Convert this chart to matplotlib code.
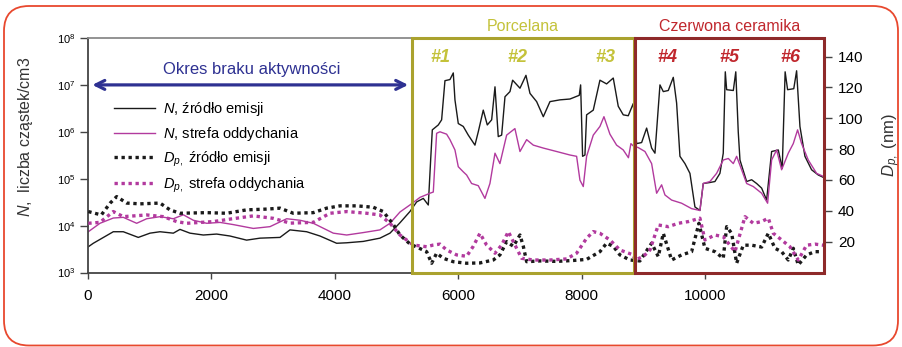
import numpy as np
import matplotlib
matplotlib.use('Agg')
import matplotlib.pyplot as plt
from matplotlib.patches import Rectangle, FancyBboxPatch
from matplotlib.lines import Line2D
from matplotlib.ticker import LogLocator, NullLocator

plt.rcParams['font.family'] = ['Liberation Sans', 'DejaVu Sans']
plt.rcParams['mathtext.fontset'] = 'custom'
plt.rcParams['mathtext.rm'] = 'Liberation Sans'
plt.rcParams['mathtext.it'] = 'Liberation Sans:italic'

# czas (s) i stezenie N - zrodlo emisji
t_n_src = [0, 86, 410, 572, 815, 1005, 1167, 1383, 1491, 1653, 1869, 2085, 2301, 2571, 2788,
           3112, 3274, 3544, 3760, 4030, 4193, 4462, 4732, 4895, 5057, 5219, 5327, 5435, 5516,
           5554, 5581, 5678, 5732, 5786, 5867, 5921, 5948, 6002, 6083, 6164, 6272, 6326, 6407,
           6472, 6543, 6597, 6650, 6705, 6759, 6840, 6883, 7002, 7099, 7164, 7272, 7380, 7488,
           7650, 7812, 7963, 7985, 8017, 8055, 8082, 8190, 8298, 8406, 8514, 8595, 8676, 8757,
           8838, 8893, 8974, 9055, 9136, 9190, 9271, 9325, 9406, 9487, 9541, 9595, 9676, 9757,
           9838, 9919, 9973, 10081, 10162, 10243, 10297, 10330, 10352, 10460, 10500, 10540,
           10568, 10676, 10757, 10838, 10919, 11000, 11081, 11189, 11253, 11300, 11340, 11440,
           11486, 11540, 11621, 11729, 11837, 11918]
n_src = [3.5e3, 4.2e3, 7.4e3, 7.4e3, 5.6e3, 6.9e3, 7.4e3, 6.9e3, 8.3e3, 6.9e3, 6.3e3, 6.6e3,
         6.0e3, 4.9e3, 5.4e3, 5.6e3, 8.1e3, 7.4e3, 6.0e3, 4.2e3, 4.3e3, 4.6e3, 5.4e3, 6.9e3,
         1.15e4, 2.0e4, 3.2e4, 3.8e4, 2.75e4, 2.5e5, 1.1e6, 1.4e6, 1.8e6, 1.23e7, 1.3e7, 1.8e7,
         4.8e6, 1.5e6, 1.3e6, 8.5e5, 5.2e5, 1.0e6, 2.9e6, 1.4e6, 1.8e6, 9.1e6, 7.9e5, 8.5e5,
         5.6e6, 7.2e6, 1.26e7, 8.5e6, 1.6e7, 6.6e6, 4.4e6, 2.1e6, 4.4e6, 4.8e6, 5.0e6, 6.0e6,
         1.0e7, 3.0e5, 3.2e5, 2.3e6, 2.9e6, 1.26e7, 1.05e7, 1.4e7, 3.5e6, 2.3e6, 2.2e6, 4.0e6,
         5.6e5, 5.9e5, 1.2e6, 4.5e5, 3.5e5, 1.0e7, 7.2e6, 7.6e6, 1.45e7, 4.1e6, 3.0e5, 2.1e5,
         1.3e5, 2.5e4, 2.1e4, 7.9e4, 8.3e4, 8.7e4, 1.3e5, 3.5e5, 1.9e7, 7.9e6, 7.6e6, 1.9e7,
         1.0e6, 2.5e5, 8.7e4, 9.5e4, 7.9e4, 6.3e4, 3.5e4, 3.8e5, 4.1e5, 1.66e5, 1.9e7, 7.9e6,
         8.3e6, 2.0e7, 1.3e6, 3.0e5, 1.55e5, 1.2e5, 1.07e5]

# N - strefa oddychania
t_n_br = [5, 194, 410, 572, 789, 951, 1167, 1383, 1545, 1707, 1924, 2140, 2356, 2680, 2950,
          3220, 3436, 3652, 3976, 4193, 4462, 4732, 4895, 5057, 5250, 5381, 5543, 5597, 5651,
          5705, 5813, 5867, 5948, 6002, 6083, 6137, 6218, 6326, 6434, 6515, 6597, 6677, 6786,
          6920, 7002, 7110, 7218, 7380, 7596, 7812, 7920, 7974, 8028, 8082, 8190, 8298, 8363,
          8460, 8568, 8676, 8760, 8800, 8838, 8920, 9028, 9136, 9217, 9298, 9352, 9460, 9622,
          9784, 9919, 9973, 10081, 10189, 10297, 10379, 10460, 10514, 10595, 10676, 10784,
          10919, 11016, 11081, 11162, 11243, 11351, 11432, 11502, 11567, 11675, 11810, 11918]
n_br = [7.4e3, 1.12e4, 1.45e4, 1.5e4, 1.12e4, 1.4e4, 1.55e4, 1.4e4, 1.7e4, 1.3e4, 1.12e4,
        1.17e4, 1.05e4, 8.7e3, 9.5e3, 1.4e4, 1.3e4, 1.12e4, 6.9e3, 6.3e3, 7.1e3, 8.1e3, 1.12e4,
        1.95e4, 2.95e4, 4.0e4, 4.9e4, 5.2e4, 9.3e5, 1.0e6, 8.9e5, 6.8e5, 4.1e5, 1.8e5, 1.4e5,
        1.2e5, 7.9e4, 7.1e4, 3.8e4, 7.9e4, 3.5e5, 2.1e5, 8.5e5, 1.17e6, 3.8e5, 6.8e5, 5.2e5,
        4.5e5, 3.8e5, 3.2e5, 3.0e5, 9.3e4, 6.8e4, 3.0e5, 8.5e5, 1.3e6, 2.1e6, 8.9e5, 5.2e5,
        4.1e5, 2.8e5, 5.6e5, 5.0e5, 4.6e5, 3.8e5, 2.1e5, 4.9e4, 7.4e4, 4.5e4, 3.5e4, 3.0e4,
        2.3e4, 2.1e4, 7.9e4, 8.7e4, 1.3e5, 2.5e5, 2.7e5, 2.1e5, 3.0e5, 1.55e5, 7.9e4, 6.8e4,
        4.9e4, 3.0e4, 2.5e5, 4.1e5, 1.55e5, 3.5e5, 5.6e5, 1.1e6, 5.6e5, 2.5e5, 1.3e5, 1.12e5]

# Dp (nm) - zrodlo emisji
t_dp_src = [5, 216, 357, 465, 627, 843, 1167, 1329, 1491, 1924, 2248, 2571, 2896, 3112, 3328,
            3652, 3868, 4084, 4354, 4624, 4786, 4950, 5057, 5219, 5489, 5570, 5651, 5759, 5921,
            6137, 6353, 6569, 6677, 6786, 6894, 7002, 7056, 7110, 7326, 7596, 7866, 8082, 8298,
            8406, 8514, 8622, 8784, 8946, 9028, 9136, 9244, 9325, 9460, 9622, 9784, 9903, 10000,
            10162, 10297, 10352, 10433, 10514, 10622, 10757, 10919, 11027, 11135, 11243, 11351,
            11432, 11513, 11648, 11783, 11891]
dp_src = [39.5, 37.3, 44.9, 49.2, 45, 44.5, 45, 40.6, 38.4, 38.8, 38.4, 40.6, 41.1, 41.7, 38.4,
          38.8, 41.7, 43.2, 43.2, 42.3, 39.5, 31, 24.3, 18.5, 13.5, 6, 12.5, 9.2, 7, 6, 6.2, 8.1,
          11.4, 20, 17, 24.3, 17, 7, 7.5, 7.2, 7.8, 8.5, 13.5, 19, 17, 11.4, 8.1, 7.5, 12.5, 19,
          10.3, 25.4, 8.1, 11.4, 13.5, 31.9, 15.7, 13.5, 9.2, 29.7, 25.4, 6, 17.7, 17.7, 16.5,
          25.4, 15.7, 13.5, 8.1, 15.7, 4.9, 11.4, 13.5, 13.5]

# Dp (nm) - strefa oddychania
t_dp_br = [5, 194, 410, 572, 951, 1221, 1437, 1599, 2031, 2301, 2680, 3004, 3274, 3652, 3922,
           4193, 4517, 4732, 4895, 5057, 5273, 5489, 5597, 5705, 5813, 5975, 6137, 6245, 6353,
           6461, 6597, 6705, 6813, 6921, 7029, 7218, 7488, 7758, 7920, 8082, 8190, 8298, 8460,
           8622, 8838, 8865, 9000, 9109, 9190, 9244, 9406, 9568, 9730, 9919, 10000, 10162,
           10297, 10487, 10649, 10784, 10919, 11027, 11108, 11243, 11378, 11513, 11648, 11783,
           11918]
dp_br = [31.9, 32.5, 39.5, 36.2, 37.3, 36.2, 33, 31.9, 33, 34.6, 36.7, 35.1, 32, 32.5, 38.4,
         39.5, 38.4, 37.3, 31.9, 24.3, 17.8, 16.7, 17.8, 18.4, 14.6, 11.4, 10.5, 17, 25.4, 17.8,
         12.5, 17.8, 26.5, 17.8, 9.2, 8.1, 8.1, 8.8, 12.5, 22.2, 26.5, 25.4, 21.1, 14.6, 11.4,
         8.1, 10.3, 14.6, 24.3, 30.8, 29.7, 31.9, 33, 35.2, 21.1, 24.3, 23.2, 13.5, 36.2, 31.9,
         33, 35.2, 25.4, 21.1, 16.7, 8.1, 17.7, 18.4, 17.7]

labels = [r'$N$, źródło emisji', r'$N$, strefa oddychania',
          r'$D_{p,}$ źródło emisji', r'$D_{p,}$ strefa oddychania']
x_ticks = [0, 2000, 4000, 6000, 8000, 10000]
dp_ticks = [20, 40, 60, 80, 100, 120, 140]

porc = (5250, 8850)
czer = (8870, 11930)
tests = ['#1', '#2', '#3', '#4', '#5', '#6']
test_x = [5705, 6953, 8395, 9400, 10405, 11378]

black = '#1a1a1a'
magenta = '#b23a9e'
olive = '#aaa22e'
olive_txt = '#c4c23a'
dred = '#8e2a2a'
red_txt = '#c0272d'
navy = '#2e3192'

fig = plt.figure(figsize=(9.03, 3.47), dpi=100)
ax = fig.add_axes([88/903, 74.5/347, 736/903, 234.5/347])
ax.set_yscale('log')
ax.set_xlim(0, 11930)
ax.set_ylim(1e3, 1e8)

ax.plot(t_n_src, n_src, color=black, lw=1.0)
ax.plot(t_n_br, n_br, color=magenta, lw=1.0)

ax.set_xticks(x_ticks)
ax.yaxis.set_major_locator(LogLocator(base=10, numticks=10))
ax.yaxis.set_minor_locator(NullLocator())
ax.tick_params(axis='x', labelsize=11, length=4, width=1, color='#444', pad=8)
ax.tick_params(axis='y', labelsize=8, length=6, width=1, color='#444', pad=3)
for s in ['left', 'bottom']:
    ax.spines[s].set_color('#444')
    ax.spines[s].set_linewidth(1.3)
ax.spines['top'].set_color('#8a8a8a')
ax.spines['top'].set_linewidth(1.3)
ax.spines['right'].set_visible(False)

ax.set_ylabel(r'$N$,  liczba cząstek/cm3', fontsize=11.5, color='#333')
ax.yaxis.set_label_coords(-0.072, 0.58)

ax2 = ax.twinx()
ax2.set_ylim(0, 152)
ax2.plot(t_dp_src, dp_src, color=black, lw=2.4, ls=(0, (1, 1.1)))
ax2.plot(t_dp_br, dp_br, color=magenta, lw=2.4, ls=(0, (1, 1.1)))
ax2.set_yticks(dp_ticks)
ax2.tick_params(axis='y', labelsize=11, length=6, width=1, color='#444', pad=4)
for s in ax2.spines.values():
    s.set_visible(False)
ax2.set_ylabel(r'$D_{p,}$ (nm)', fontsize=12, color='#333')
ax2.yaxis.set_label_coords(1.077, 0.544)

# ramki etapow
ax2.add_patch(Rectangle((porc[0], 0), porc[1] - porc[0], 1, transform=ax2.get_xaxis_transform(),
                        fill=False, ec=olive, lw=2.2, clip_on=False, zorder=5))
ax2.add_patch(Rectangle((czer[0], 0), czer[1] - czer[0], 1, transform=ax2.get_xaxis_transform(),
                        fill=False, ec=dred, lw=2.2, clip_on=False, zorder=5))
ax2.text(sum(porc) / 2, 1.047, 'Porcelana', transform=ax2.get_xaxis_transform(),
         ha='center', va='center', fontsize=11.5, color=olive_txt)
ax2.text(sum(czer) / 2, 1.047, 'Czerwona ceramika', transform=ax2.get_xaxis_transform(),
         ha='center', va='center', fontsize=11.5, color=red_txt)
for i, (lab, xx) in enumerate(zip(tests, test_x)):
    ax2.text(xx, 0.915, lab, transform=ax2.get_xaxis_transform(), ha='center', va='center',
             fontsize=13, fontweight='bold', style='italic',
             color=olive_txt if i < 3 else red_txt)

# okres braku aktywnosci
ax.annotate('', xy=(5190, 1e7), xytext=(70, 1e7),
            arrowprops=dict(arrowstyle='<->', color=navy, lw=2.3, mutation_scale=16,
                            shrinkA=0, shrinkB=0))
ax.text(2650, 2.1e7, 'Okres braku aktywności', ha='center', va='center', fontsize=12,
        color=navy)

handles = [Line2D([], [], color=black, lw=1.0),
           Line2D([], [], color=magenta, lw=1.0),
           Line2D([], [], color=black, lw=2.4, ls=(0, (1, 1.1))),
           Line2D([], [], color=magenta, lw=2.4, ls=(0, (1, 1.1)))]
ax2.legend(handles, labels, loc='upper left', bbox_to_anchor=(0.026, 0.765), frameon=False,
           fontsize=10.5, handlelength=2.8, labelspacing=0.45, borderpad=0, handletextpad=0.5)

# obramowanie
fig.patches.append(FancyBboxPatch((0.04, 0.015), 8.94, 3.395,
                                  boxstyle='round,pad=0,rounding_size=0.25',
                                  transform=fig.dpi_scale_trans, fill=False,
                                  ec='#e8482e', lw=1.3))

fig.savefig('out.png', dpi=100)
